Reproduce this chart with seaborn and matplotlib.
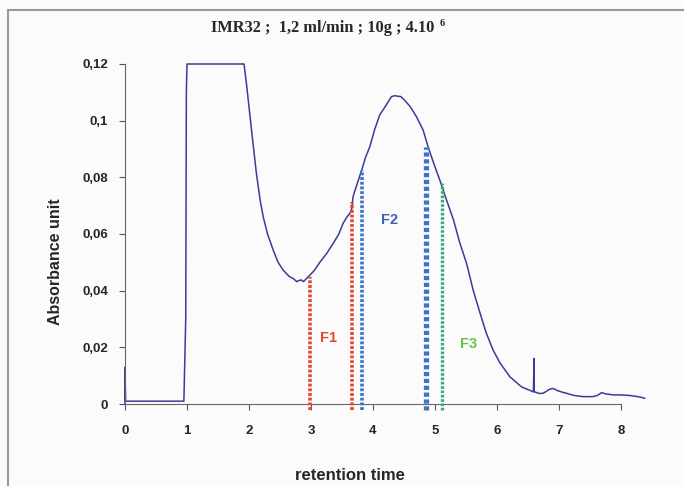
import matplotlib
matplotlib.use("Agg")
import matplotlib.pyplot as plt
import matplotlib.patches as patches
import seaborn as sns
import pandas as pd

# chromatogram trace
t = [0.0, 0.0, 0.01, 0.5, 0.95, 0.98, 0.99, 1.0, 1.5, 1.92, 1.96, 2.04, 2.12, 2.18,
     2.23, 2.3, 2.39, 2.47, 2.55, 2.65, 2.72, 2.77, 2.8, 2.84, 2.88, 2.96, 3.05, 3.15,
     3.25, 3.36, 3.45, 3.52, 3.58, 3.63, 3.66, 3.68, 3.75, 3.82, 3.88, 3.95, 4.03, 4.11,
     4.2, 4.3, 4.35, 4.45, 4.5, 4.6, 4.7, 4.81, 4.89, 4.98, 5.08, 5.18, 5.3, 5.4, 5.51,
     5.62, 5.73, 5.83, 5.94, 6.05, 6.21, 6.4, 6.59, 6.6, 6.6, 6.61, 6.68, 6.75, 6.85,
     6.91, 6.97, 7.05, 7.12, 7.25, 7.39, 7.55, 7.62, 7.69, 7.75, 7.88, 8.0, 8.15, 8.3, 8.39]
absorb = [0.0, 0.013, 0.001, 0.001, 0.001, 0.03, 0.11, 0.12, 0.12, 0.12, 0.113, 0.097,
          0.0814, 0.072, 0.0661, 0.060, 0.0544, 0.050, 0.0473, 0.045, 0.0442, 0.0432,
          0.0435, 0.0438, 0.0432, 0.045, 0.047, 0.0502, 0.053, 0.0567, 0.060, 0.0638,
          0.066, 0.0673, 0.069, 0.0732, 0.078, 0.0826, 0.087, 0.0908, 0.097, 0.102, 0.105,
          0.1085, 0.1088, 0.1085, 0.1075, 0.105, 0.1015, 0.0967, 0.0908, 0.085, 0.079,
          0.0725, 0.065, 0.057, 0.0497, 0.040, 0.032, 0.025, 0.019, 0.0145, 0.0096, 0.006,
          0.0043, 0.0161, 0.0043, 0.0043, 0.0037, 0.0038, 0.0052, 0.0055, 0.0048, 0.0042,
          0.0038, 0.003, 0.0026, 0.0026, 0.003, 0.004, 0.0036, 0.0032, 0.0032, 0.003,
          0.0025, 0.002]

# fraction cut lines
cut_x = [2.98, 3.66, 3.82, 4.86, 5.11]
cut_top = [0.045, 0.0714, 0.0826, 0.0907, 0.0779]
cut_color = ["#e8472f", "#e8472f", "#3d74c4", "#3d74c4", "#35ad7a"]
cut_width = [2.6, 2.6, 2.6, 3.8, 2.4]

frac_names = ["F1", "F2", "F3"]
frac_x = [3.29, 4.27, 5.55]
frac_y = [0.0233, 0.065, 0.021]
frac_color = ["#e8472f", "#3d63b8", "#6cc045"]

x_ticks = [0, 1, 2, 3, 4, 5, 6, 7, 8]
y_ticks = [0, 0.02, 0.04, 0.06, 0.08, 0.1, 0.12]
y_labels = ["0", "0,02", "0,04", "0,06", "0,08", "0,1", "0,12"]

sns.set_style("white")
plt.rcParams["font.family"] = ["Liberation Sans", "DejaVu Sans"]

fig = plt.figure(figsize=(6.84, 4.86), dpi=100, facecolor="#fbfbfb")
fig.patches.append(patches.Rectangle((8 / 684, -0.1), 1.2, (486 - 10) / 486 + 0.1,
                                     transform=fig.transFigure, fill=False,
                                     edgecolor="#9a9a9a", linewidth=1.5))
ax = fig.add_axes([125 / 684, 82 / 486, 533 / 684, 340 / 486])
ax.set_facecolor("none")

df = pd.DataFrame({"t": t, "a": absorb})
sns.lineplot(data=df, x="t", y="a", ax=ax, sort=False, estimator=None,
             color="#3b3b98", linewidth=1.1)
for ln in ax.lines:
    ln.set_clip_on(False)

for cx, ctop, cc, cw in zip(cut_x, cut_top, cut_color, cut_width):
    ax.plot([cx, cx], [-0.0022, ctop], color=cc, linewidth=cw,
            linestyle=(0, (0.8, 0.5)), clip_on=False, zorder=3)

for name, fx, fy, fc in zip(frac_names, frac_x, frac_y, frac_color):
    ax.text(fx, fy, name, color=fc, fontsize=10.5, fontweight="bold",
            ha="center", va="center")

ax.set_xlim(0, 8.6)
ax.set_ylim(0, 0.12)
ax.set_xticks(x_ticks)
ax.set_xticklabels([str(v) for v in x_ticks], fontsize=9.5, fontweight="bold")
ax.set_yticks(y_ticks)
ax.set_yticklabels(y_labels, fontsize=9.5, fontweight="bold")
ax.tick_params(axis="both", direction="out", length=4, width=0.8, color="#555555",
               bottom=True, left=True)
ax.tick_params(axis="x", pad=11)
ax.tick_params(axis="y", pad=8)
for side in ["top", "right"]:
    ax.spines[side].set_visible(False)
for side in ["left", "bottom"]:
    ax.spines[side].set_color("#666666")
    ax.spines[side].set_linewidth(0.8)
ax.spines["bottom"].set_bounds(0, 8)

ax.set_xlabel("retention time", fontsize=12, fontweight="bold")
ax.xaxis.set_label_coords((350 - 125) / 533, (404 - 475) / 340)
ax.set_ylabel("Absorbance unit", fontsize=11.5, fontweight="bold")
ax.yaxis.set_label_coords((56 - 125) / 533, (404 - 262) / 340)
ax.xaxis.label.set_va("center")
ax.yaxis.label.set_va("center")

fig.text(211 / 684, 1 - 28 / 486, "IMR32 ;  1,2 ml/min ; 10g ; 4.10",
         family=["Liberation Serif", "DejaVu Serif"], fontsize=11.8, fontweight="bold",
         ha="left", va="center")
fig.text(440 / 684, 1 - 24 / 486, "6", family=["Liberation Serif", "DejaVu Serif"],
         fontsize=7.5, fontweight="bold", ha="left", va="center")

fig.savefig("out.png", dpi=100, facecolor=fig.get_facecolor())
